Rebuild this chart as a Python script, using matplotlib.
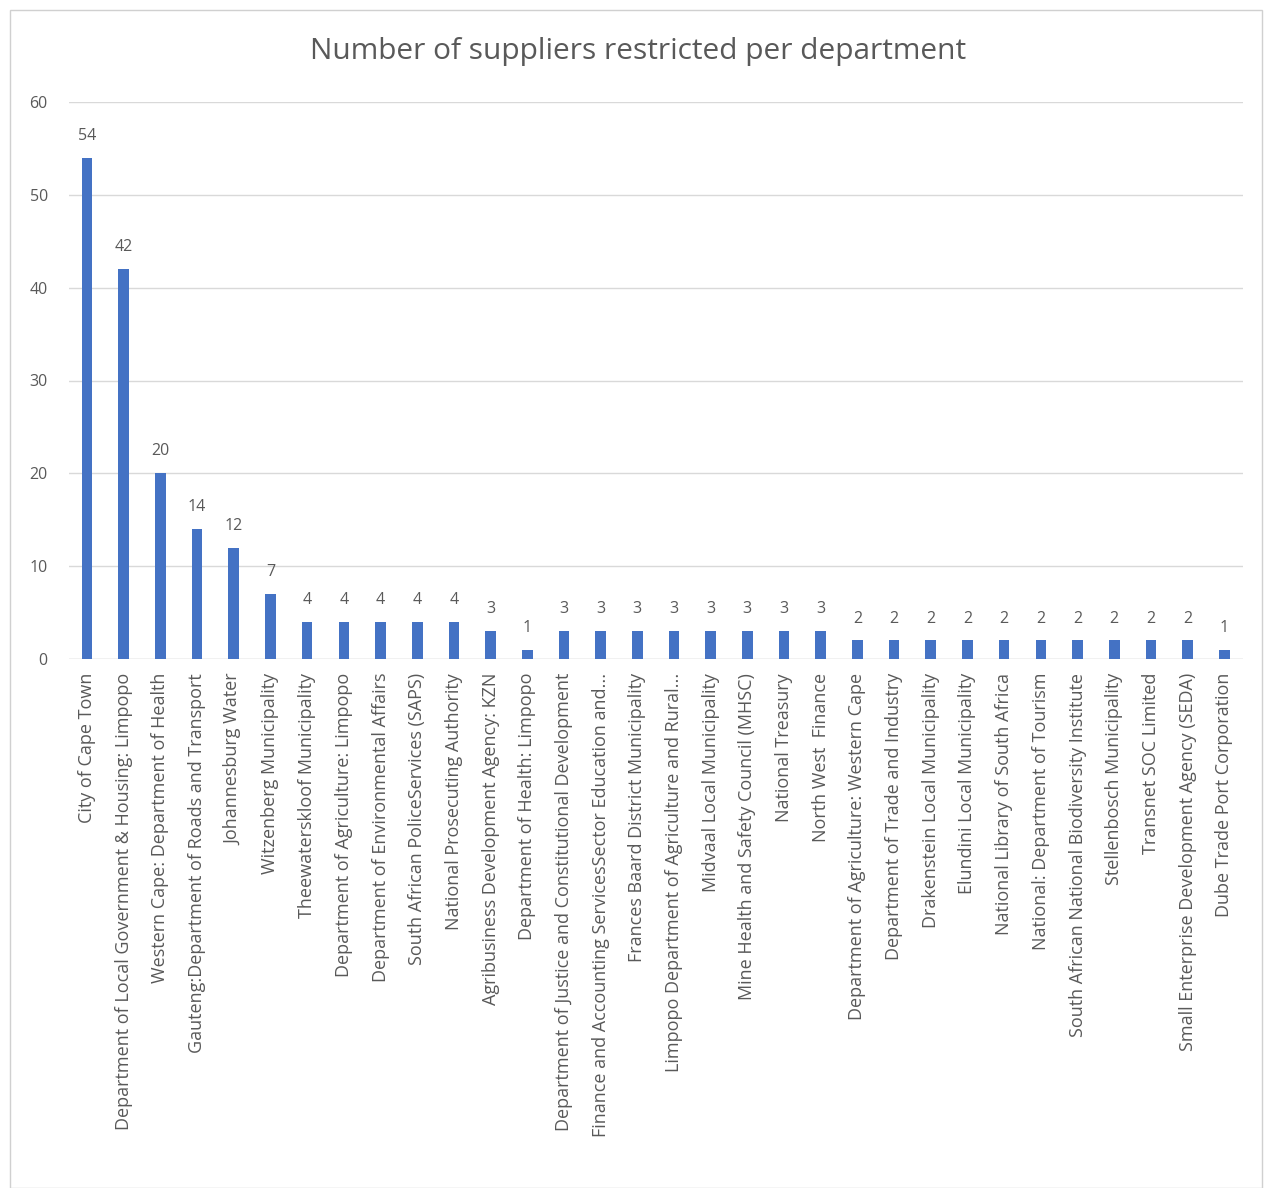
import matplotlib
matplotlib.use("Agg")
import matplotlib.pyplot as plt
from matplotlib.patches import Rectangle

departments = [
    "City of Cape Town",
    "Department of Local Government & Housing: Limpopo",
    "Western Cape: Department of Health",
    "Gauteng:Department of Roads and Transport",
    "Johannesburg Water",
    "Witzenberg Municipality",
    "Theewaterskloof Municipality",
    "Department of Agriculture: Limpopo",
    "Department of Environmental Affairs",
    "South African PoliceServices (SAPS)",
    "National Prosecuting Authority",
    "Agribusiness Development Agency: KZN",
    "Department of Health: Limpopo",
    "Department of Justice and Constitutional Development",
    "Finance and Accounting ServicesSector Education and...",
    "Frances Baard District Municipality",
    "Limpopo Department of Agriculture and Rural...",
    "Midvaal Local Municipality",
    "Mine Health and Safety Council (MHSC)",
    "National Treasury",
    "North West  Finance",
    "Department of Agriculture: Western Cape",
    "Department of Trade and Industry",
    "Drakenstein Local Municipality",
    "Elundini Local Municipality",
    "National Library of South Africa",
    "National: Department of Tourism",
    "South African National Biodiversity Institute",
    "Stellenbosch Municipality",
    "Transnet SOC Limited",
    "Small Enterprise Development Agency (SEDA)",
    "Dube Trade Port Corporation",
]
suppliers = [54, 42, 20, 14, 12, 7, 4, 4, 4, 4, 4, 3, 1, 3, 3, 3, 3, 3, 3, 3, 3,
             2, 2, 2, 2, 2, 2, 2, 2, 2, 2, 1]
yticks = [0, 10, 20, 30, 40, 50, 60]
title = "Number of suppliers restricted per department"

gray = "#595959"
plt.rcParams['font.family'] = ['Open Sans', 'DejaVu Sans']

fig = plt.figure(figsize=(12.68, 11.88), dpi=100)
fig.patches.append(Rectangle((10/1268, 0), 1252/1268, 1178/1188, transform=fig.transFigure,
                             fill=False, edgecolor="#d0d0d0", linewidth=1))
ax = fig.add_axes([68.7/1268, 529/1188, (1242.6-68.7)/1268, (1086-529)/1188])

x = list(range(len(departments)))
ax.bar(x, suppliers, width=0.29, color="#4472C4", zorder=3)
for xi, v in zip(x, suppliers):
    ax.annotate(str(v), (xi, v), xytext=(0, 10), textcoords="offset points",
                ha="center", va="bottom", fontsize=11.5, color=gray)

ax.set_xlim(-0.5, len(departments) - 0.5)
ax.set_ylim(0, 60)
ax.set_yticks(yticks)
ax.set_yticklabels([str(t) for t in yticks], fontsize=11.5, color=gray)
ax.set_xticks(x)
ax.set_xticklabels(departments, rotation=90, fontsize=13, color=gray, ha="center", va="top")
ax.tick_params(axis="both", length=0)
ax.tick_params(axis="y", pad=15)
ax.tick_params(axis="x", pad=10)
ax.grid(axis="y", color="#d9d9d9", linewidth=1, zorder=0)
for s in ax.spines.values():
    s.set_visible(False)
ax.axhline(0, color="#d9d9d9", linewidth=1, zorder=2)

fig.text(638/1268, 1 - 52/1188, title, ha="center", va="center", fontsize=21.5, color=gray)

fig.savefig("out.png", dpi=100)
